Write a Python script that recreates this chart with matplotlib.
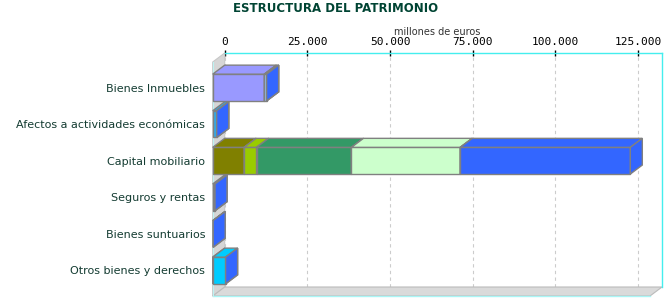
import matplotlib
matplotlib.use("Agg")
import matplotlib.pyplot as plt
from matplotlib.patches import Polygon, Rectangle
from matplotlib.ticker import FuncFormatter

# ---- data (millones de euros) ----
categories = ["Bienes Inmuebles", "Afectos a actividades económicas",
              "Capital mobiliario", "Seguros y rentas",
              "Bienes suntuarios", "Otros bienes y derechos"]
# stacked components, in drawing order (one list per series, one value per category)
s_olive      = [0,     0,    9500,  0,   0,   0]
s_yellowgrn  = [0,     0,    3750,  0,   0,   0]
s_seagreen   = [0,     0,    28700, 0,   0,   0]
s_lightgreen = [0,     0,    32900, 0,   0,   0]
s_lavender   = [15600, 0,    0,     0,   0,   0]
s_lightblue  = [700,   0,    0,     0,   0,   0]
s_skyblue    = [0,     1200, 0,     0,   0,   0]
s_navy       = [0,     0,    0,     700, 0,   0]
s_suntuarios = [0,     0,    0,     0,   150, 0]
s_cyan       = [0,     0,    0,     0,   0,   3900]
s_blue       = [0,     0,    51400, 0,   0,   0]

series = [s_olive, s_yellowgrn, s_seagreen, s_lightgreen, s_lavender, s_lightblue,
          s_skyblue, s_navy, s_suntuarios, s_cyan, s_blue]
colors = ["#808000", "#99CC00", "#339966", "#CCFFCC", "#9999FF", "#99CCFF",
          "#33A9E6", "#333399", "#3366FF", "#00CCFF", "#3366FF"]

xticks = [0, 25000, 50000, 75000, 100000, 125000]
xmax = 132200

W, H = 670, 300
fig = plt.figure(figsize=(W / 100, H / 100), dpi=100)
left_px, right_px, top_px, bot_px = 224.7, 662.0, 53.0, 287.0
ax = fig.add_axes([left_px / W, 1 - bot_px / H, (right_px - left_px) / W, (bot_px - top_px) / H])

n = len(categories)
pad = 0.697
ax.set_xlim(0, xmax)
ax.set_ylim(n - 1 + pad, -pad)

# depth offsets (12 px right, 9 px up) expressed in data units
ax_w_px = (right_px - left_px)
ax_h_px = (bot_px - top_px)
DX = 12 * xmax / ax_w_px
DY = 9 * (n - 1 + 2 * pad) / ax_h_px
h = 0.73
edge = "#808080"

# wall and floor
y0, y1 = -pad, n - 1 + pad
wall = Polygon([(0, y0), (0, y1), (-DX, y1 + DY), (-DX, y0 + DY)], closed=True,
               facecolor="#D6D6D6", edgecolor="#C8C8C8", lw=0.8, clip_on=False, zorder=1)
floor = Polygon([(0, y1), (xmax, y1), (xmax - DX, y1 + DY), (-DX, y1 + DY)], closed=True,
                facecolor="#DADADA", edgecolor="#BBBBBB", lw=0.8, clip_on=False, zorder=1)
ax.add_patch(wall)
ax.add_patch(floor)
ax.plot([-DX, xmax - DX], [y1 + DY, y1 + DY], color="#AAF5F5", lw=1, clip_on=False, zorder=1.5)
ax.plot([-DX, -DX], [y0 + DY, y1 + DY], color="#BDF2F2", lw=0.8, clip_on=False, zorder=1.5)

# bars
for i in range(n):
    yc = i + DY
    yt, yb = yc - h / 2, yc + h / 2
    start = 0.0
    for vals, col in zip(series, colors):
        v = vals[i]
        if v == 0 and col != "#3366FF":
            continue
        l, r = start - DX, start + v - DX
        if v > 0:
            ax.add_patch(Rectangle((l, yt), v, h, facecolor=col, edgecolor=edge,
                                   lw=1, clip_on=False, zorder=3))
            ax.add_patch(Polygon([(l, yt), (r, yt), (r + DX, yt - DY), (l + DX, yt - DY)],
                                 closed=True, facecolor=col, edgecolor=edge, lw=1,
                                 clip_on=False, zorder=3))
        ax.add_patch(Polygon([(r, yt), (r + DX, yt - DY), (r + DX, yb - DY), (r, yb)],
                             closed=True, facecolor=col, edgecolor=edge, lw=1,
                             clip_on=False, zorder=3))
        start += v

# axes styling
for s in ["left", "bottom"]:
    ax.spines[s].set_visible(False)
for s in ["top", "right"]:
    ax.spines[s].set_color("#44EEEE")
    ax.spines[s].set_linewidth(1)
ax.xaxis.tick_top()
ax.set_xticks(xticks)
ax.xaxis.set_major_formatter(FuncFormatter(lambda v, p: f"{int(v):,}".replace(",", ".")))
ax.tick_params(axis="x", direction="inout", length=4, width=1, color="black", pad=2,
               labelsize=8, labelcolor="black")
for lab in ax.get_xticklabels():
    lab.set_family("DejaVu Sans Mono")
ax.grid(axis="x", color="#CCCCCC", linestyle=(0, (3, 3)), lw=0.8, zorder=0)
ax.set_axisbelow(True)

ax.set_yticks([i + DY for i in range(n)])
ax.set_yticklabels(categories)
ax.tick_params(axis="y", length=0, pad=14, labelsize=8, labelcolor="#143C32")

fig.text(336 / W, 1 - 9 / H, "ESTRUCTURA DEL PATRIMONIO", ha="center", va="center",
         fontsize=8.5, fontweight="bold", color="#004433")
fig.text(437 / W, 1 - 32 / H, "millones de euros", ha="center", va="center",
         fontsize=7, color="#333333")

fig.savefig("out.png", dpi=100)
